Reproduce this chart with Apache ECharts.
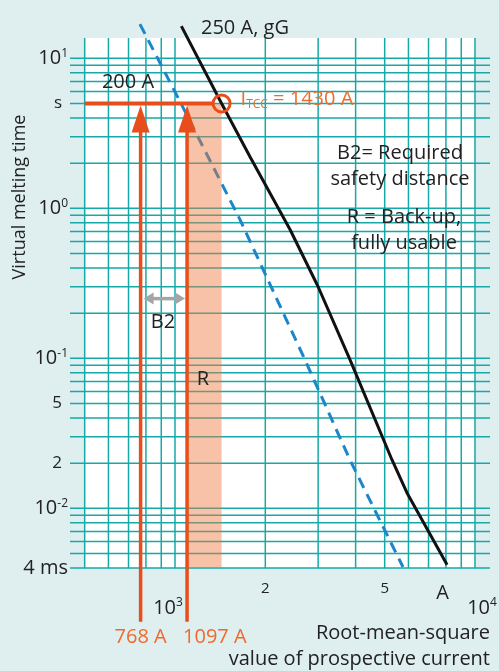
<!DOCTYPE html>
<html>
<head>
<meta charset="utf-8">
<title>Melting time characteristic</title>
<script src="https://cdn.jsdelivr.net/npm/echarts@6.0.0/dist/echarts.min.js"></script>
<style>
  html, body { margin: 0; padding: 0; background: #dfeeef; }
  #chart { width: 499px; height: 671px; }
</style>
</head>
<body>
<div id="chart"></div>
<script>
// axis ranges, current in A and time in s
var xMin = 446.7, xMax = 11220;
var yMin = 0.004, yMax = 13.66;
var paperLeft = 500, paperRight = 10000;

// grid lines of the log paper
var currentLines = [500, 600, 700, 800, 900, 1000, 2000, 3000, 4000, 5000, 6000, 7000, 8000, 9000, 10000];
var timeLines = [10, 9, 8, 7, 6, 5, 4, 3, 2,
  1, 0.9, 0.8, 0.7, 0.6, 0.5, 0.4, 0.3, 0.2,
  0.1, 0.09, 0.08, 0.07, 0.06, 0.05, 0.04, 0.03, 0.02,
  0.01, 0.009, 0.008, 0.007, 0.006, 0.005, 0.004];

// tick labels
var timeTicks = [10, 5, 1, 0.1, 0.05, 0.02, 0.01, 0.004];
var timeTickLabels = ['10{sup|1}', '{pad|s}', '10{sup|0}', '10{sup|-1}', '{pad|5}', '{pad|2}', '10{sup|-2}', '4 ms'];
var currentTicks = [2000, 5000, 7800];
var currentTickLabels = ['{sm|2}', '{sm|5}', '{unit|A}'];
var decadeTicks = [1000, 10000];
var decadeTickLabels = ['10{sup|3}{gap|}', '{gap|}10{sup|4}'];

// melting curves [current, time]
var fuse250 = [[1050, 16.4], [1430, 5], [1780, 2.2], [2420, 0.72], [3000, 0.3], [3830, 0.098], [5290, 0.021], [5930, 0.0127], [8070, 0.0042]];
var fuse200 = [[764, 16.9], [1042, 5.1], [1647, 0.84], [2713, 0.0975], [3831, 0.021], [5754, 0.00406]];

// selectivity marks
var iTcc = 1430;
var tTcc = 5;
var arrowCurrents = [768, 1097];
var arrowLabels = ['768 A', '1097 A'];
var arrowLow = 0.00175;
var b2Time = 0.25;

var gridColor = '#17a9a9';
var orange = '#e84e1b';
var orangeText = '#ef6a2c';
var ink = '#222';
var font = '"Open Sans", "Noto Sans", sans-serif';
var fs = 20;

function pickLabel(values, labels) {
  return function (v) {
    for (var i = 0; i < values.length; i++) {
      if (Math.abs(Math.log10(v) - Math.log10(values[i])) < 0.005) return labels[i];
    }
    return '';
  };
}

var supStyle = { fontSize: 12, verticalAlign: 'top', lineHeight: 12, fontFamily: font, color: ink };

function note(x, y, text, align, vAlign) {
  return { type: 'text', z: 100, x: x, y: y, style: {
    text: text, align: align, verticalAlign: vAlign, lineHeight: 26,
    fontSize: fs, fontFamily: font, fill: ink
  } };
}

var myChart = echarts.init(document.getElementById('chart'));

var option = {
  backgroundColor: '#dfeeef',
  animation: false,
  grid: { left: 70, right: 9, top: 38, bottom: 103, outerBoundsMode: 'none' },
  xAxis: [{
    type: 'log', min: xMin, max: xMax,
    axisLine: { show: false }, axisTick: { show: false }, splitLine: { show: false },
    axisLabel: {
      customValues: currentTicks, margin: 21, verticalAlign: 'middle',
      formatter: pickLabel(currentTicks, currentTickLabels),
      rich: {
        sm: { fontSize: 15, fontFamily: font, color: ink },
        unit: { fontSize: fs, fontFamily: font, color: ink, padding: [8, 0, 0, 0] }
      }
    }
  }, {
    type: 'log', min: xMin, max: xMax, position: 'bottom',
    axisLine: { show: false }, axisTick: { show: false }, splitLine: { show: false },
    axisLabel: {
      customValues: decadeTicks, margin: 40, verticalAlign: 'middle',
      fontSize: fs, fontFamily: font, color: ink, lineHeight: 22,
      formatter: pickLabel(decadeTicks, decadeTickLabels),
      rich: { sup: supStyle, gap: { width: 14 } }
    }
  }],
  yAxis: {
    type: 'log', min: yMin, max: yMax,
    axisLine: { show: false }, axisTick: { show: false }, splitLine: { show: false },
    axisLabel: {
      customValues: timeTicks, margin: 2,
      fontSize: fs, fontFamily: font, color: ink, lineHeight: 22,
      formatter: pickLabel(timeTicks, timeTickLabels),
      rich: {
        sup: supStyle,
        pad: { fontSize: 17, fontFamily: font, color: ink, padding: [0, 6, 0, 0] }
      }
    }
  },
  series: [{
    // white paper
    type: 'custom', z: 1, silent: true,
    data: [[paperLeft, yMin, paperRight, yMax]],
    renderItem: function (params, api) {
      var p1 = api.coord([api.value(0), api.value(3)]);
      var p2 = api.coord([api.value(2), api.value(1)]);
      return { type: 'rect', shape: { x: p1[0], y: p1[1], width: p2[0] - p1[0], height: p2[1] - p1[1] }, style: { fill: '#fff' } };
    }
  }, {
    // vertical grid lines
    type: 'custom', z: 2, silent: true,
    data: currentLines.map(function (v) { return [v, yMin]; }),
    renderItem: function (params, api) {
      var cs = params.coordSys;
      var p = api.coord([api.value(0), api.value(1)]);
      return { type: 'line', shape: { x1: p[0], y1: cs.y, x2: p[0], y2: cs.y + cs.height }, style: { stroke: gridColor, lineWidth: 1.5 } };
    }
  }, {
    // horizontal grid lines
    type: 'custom', z: 2, silent: true,
    data: timeLines.map(function (v) { return [paperLeft, v]; }),
    renderItem: function (params, api) {
      var cs = params.coordSys;
      var p = api.coord([api.value(0), api.value(1)]);
      return { type: 'line', shape: { x1: cs.x, y1: p[1], x2: cs.x + cs.width, y2: p[1] }, style: { stroke: gridColor, lineWidth: 1.5 } };
    }
  }, {
    name: '200 A', type: 'line', z: 3, data: fuse200, symbol: 'none', clip: false,
    lineStyle: { color: '#1b86c9', width: 3, type: [11, 7] }
  }, {
    // back-up range R
    type: 'custom', z: 4, silent: true,
    data: [[arrowCurrents[1], tTcc, iTcc]],
    renderItem: function (params, api) {
      var p1 = api.coord([api.value(0), api.value(1)]);
      var p2 = api.coord([api.value(2), yMin]);
      return { type: 'rect', shape: { x: p1[0], y: p1[1], width: p2[0] - p1[0], height: p2[1] - p1[1] }, style: { fill: 'rgba(238,120,60,0.45)' } };
    }
  }, {
    name: '250 A, gG', type: 'line', z: 5, data: fuse250, symbol: 'none', clip: false,
    lineStyle: { color: '#111', width: 3 }
  }, {
    // B2 double arrow
    type: 'custom', z: 6, silent: true,
    data: [[arrowCurrents[0], b2Time, arrowCurrents[1]]],
    renderItem: function (params, api) {
      var a = api.coord([api.value(0), api.value(1)]);
      var b = api.coord([api.value(2), api.value(1)]);
      var x1 = a[0] + 3, x2 = b[0] - 2, y = a[1];
      var grey = '#a5a5a5';
      return { type: 'group', children: [
        { type: 'line', shape: { x1: x1 + 6, y1: y, x2: x2 - 6, y2: y }, style: { stroke: grey, lineWidth: 3.5 } },
        { type: 'polygon', shape: { points: [[x1, y], [x1 + 10, y - 6], [x1 + 10, y + 6]] }, style: { fill: grey } },
        { type: 'polygon', shape: { points: [[x2, y], [x2 - 10, y - 6], [x2 - 10, y + 6]] }, style: { fill: grey } }
      ] };
    }
  }, {
    // I_TCC level line and circle
    type: 'custom', z: 7, silent: true,
    data: [[iTcc, tTcc]],
    renderItem: function (params, api) {
      var c = api.coord([api.value(0), api.value(1)]);
      var s = api.coord([paperLeft, api.value(1)]);
      var r = 8.5;
      return { type: 'group', children: [
        { type: 'line', shape: { x1: s[0], y1: c[1], x2: c[0] - r, y2: c[1] }, style: { stroke: orange, lineWidth: 4 } },
        { type: 'circle', shape: { cx: c[0], cy: c[1], r: r }, style: { fill: 'none', stroke: orange, lineWidth: 3 } },
        { type: 'text', x: c[0] + 19, y: c[1] - 4, style: {
          text: '{i|I}{sub|TCC}{i| = 1430 A}', verticalAlign: 'middle',
          rich: {
            i: { fontSize: fs, fontFamily: font, fill: orangeText, color: orangeText, lineHeight: 22 },
            sub: { fontSize: 12, fontFamily: font, fill: orangeText, color: orangeText, verticalAlign: 'bottom', lineHeight: 6 }
          }
        } }
      ] };
    }
  }, {
    // arrows from the limit currents up to the time level
    type: 'custom', z: 7, silent: true,
    data: arrowCurrents.map(function (v) { return [v, tTcc]; }),
    renderItem: function (params, api) {
      var tip = api.coord([api.value(0), api.value(1)]);
      var low = api.coord([api.value(0), arrowLow]);
      var x = tip[0], ty = tip[1] + 2;
      var i = params.dataIndex;
      return { type: 'group', children: [
        { type: 'line', shape: { x1: x, y1: ty + 20, x2: x, y2: low[1] }, style: { stroke: orange, lineWidth: 3.5 } },
        { type: 'polygon', shape: { points: [[x, ty], [x - 9, ty + 27], [x + 9, ty + 27]] }, style: { fill: orange } },
        { type: 'text', x: i === 0 ? x : x - 4, y: low[1] + 15, style: {
          text: arrowLabels[i], align: i === 0 ? 'center' : 'left', verticalAlign: 'middle',
          fontSize: fs, fontFamily: font, fill: orangeText
        } }
      ] };
    }
  }],
  graphic: [
    { type: 'text', z: 100, x: 20, y: 197, rotation: Math.PI / 2, style: { text: 'Virtual melting time', align: 'center', verticalAlign: 'middle', fontSize: 18, fontFamily: font, fill: ink } },
    note(490, 620, 'Root-mean-square\nvalue of prospective current', 'right', 'top'),
    note(201, 28, '250 A, gG', 'left', 'middle'),
    note(128, 82, '200 A', 'center', 'middle'),
    note(400, 140, 'B2= Required\nsafety distance', 'center', 'top'),
    note(404, 204, 'R = Back-up,\nfully usable', 'center', 'top'),
    note(163, 322, 'B2', 'center', 'middle'),
    note(203, 379, 'R', 'center', 'middle')
  ]
};

myChart.setOption(option);
</script>
</body>
</html>
